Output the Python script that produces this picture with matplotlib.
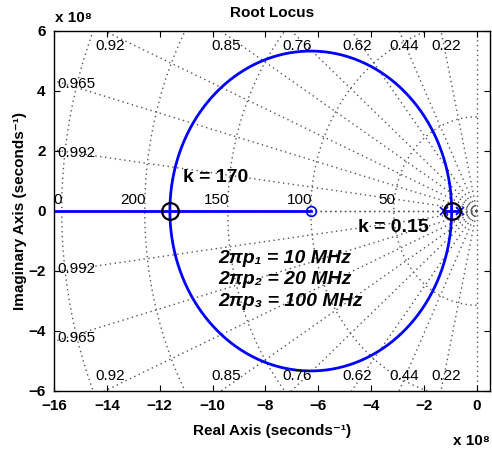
import numpy as np
import matplotlib.pyplot as plt

plt.rcParams['font.family'] = ['Liberation Sans', 'DejaVu Sans']
plt.rcParams['font.size'] = 11

# --------------------------------------------------------------
# data (frequencies in MHz, plotted in units of 1e8 rad/s)
# --------------------------------------------------------------
pole_mhz = [10, 20]
zero_mhz = 100
damping = [0.22, 0.44, 0.62, 0.76, 0.85, 0.92, 0.965, 0.992]
wn_mhz = [50, 100, 150, 200, 250]
gain_text = ["k = 170", "k = 0.15"]
freq_text = ["2πp\u2081 = 10 MHz", "2πp\u2082 = 20 MHz", "2πp\u2083 = 100 MHz"]
x_ticks = [-16, -14, -12, -10, -8, -6, -4, -2, 0]
y_ticks = [-6, -4, -2, 0, 2, 4, 6]

SCALE = 1e8
XMIN, XMAX, YMIN, YMAX = -16, 0.5, -6, 6
GRID = dict(color="#555555", lw=1.0, dashes=(1, 2.5), zorder=1)


def to_plane(f_mhz):
    return -2 * np.pi * np.asarray(f_mhz, dtype=float) * 1e6 / SCALE


fig = plt.figure(figsize=(4.92, 4.51), dpi=100)
ax = fig.add_axes([54 / 492, 60 / 451, 436 / 492, 360 / 451])

# ---- sgrid: damping rays ----
for z in damping + [1.0]:
    s = np.sqrt(1 - z * z)
    for sgn in (1, -1):
        ax.plot([0, -40 * z], [0, sgn * 40 * s], **GRID)
ax.plot([0, 0], [YMIN, YMAX], **GRID)

for z in damping:
    s = np.sqrt(1 - z * z)
    xt = -YMAX * z / s
    if xt > XMIN:
        for yy in (5.5, -5.5):
            ax.text(xt + 0.2, yy, f"{z:g}", ha="center", va="center", zorder=4)
    else:
        yl = -XMIN * s / z - 0.1
        for yy in (yl, -yl):
            ax.text(XMIN + 0.12, yy, f"{z:g}", ha="left", va="center", zorder=4)

# ---- sgrid: natural frequency arcs ----
th = np.linspace(np.pi / 2, 3 * np.pi / 2, 400)
for wn in wn_mhz:
    r = -to_plane(wn)
    ax.plot(r * np.cos(th), r * np.sin(th), **GRID)
    ax.text(-r + 0.05, 0.12, str(wn), ha="right", va="bottom", zorder=4, clip_on=True)

# ---- root locus ----
p = to_plane(pole_mhz)
zr = to_plane(zero_mhz)
rad = np.sqrt((zr - p[0]) * (zr - p[1]))
ang = np.linspace(0, 2 * np.pi, 600)
ax.plot(zr + rad * np.cos(ang), rad * np.sin(ang), color="blue", lw=2, zorder=2)
ax.plot([XMIN - 5, zr], [0, 0], color="blue", lw=2, zorder=2)
ax.plot([p[1], p[0]], [0, 0], color="blue", lw=2, zorder=2)
ax.plot(p, [0, 0], "x", color="blue", ms=6, mew=1.2, zorder=3)
ax.plot([zr], [0], "o", color="blue", mfc="none", ms=7, mew=1.2, zorder=3)

# breakaway / break-in points
brk = [zr - rad, zr + rad]
ax.plot(brk, [0, 0], "o", color="black", mfc="none", ms=12, mew=1.6, zorder=3)

ax.text(brk[0] + 0.5, 1.1, gain_text[0], fontsize=14, fontweight="bold",
        ha="left", va="center", zorder=5)
ax.text(brk[1] - 3.55, -0.55, gain_text[1], fontsize=14, fontweight="bold",
        ha="left", va="center", zorder=5)
for i, t in enumerate(freq_text):
    ax.text(-9.77, -1.57 - 0.73 * i, t, fontsize=14, fontweight="bold",
            fontstyle="italic", ha="left", va="center", zorder=5)

# ---- axes ----
ax.set_xlim(XMIN, XMAX)
ax.set_ylim(YMIN, YMAX)
ax.set_xticks(x_ticks)
ax.set_yticks(y_ticks)
ax.tick_params(direction="in", top=True, right=True, length=4, pad=6,
               labelsize=11)
for lab in ax.get_xticklabels() + ax.get_yticklabels():
    lab.set_fontweight("bold")
for sp in ax.spines.values():
    sp.set_linewidth(1.0)

ax.set_title("Root Locus", fontsize=11, fontweight="bold", pad=10)
ax.set_xlabel("Real Axis (seconds\u207b\u00b9)", fontsize=11, fontweight="bold", labelpad=8)
ax.set_ylabel("Imaginary Axis (seconds\u207b\u00b9)", fontsize=11, fontweight="bold", labelpad=1)

fig.text(55 / 492, 1 - 18 / 451, "x 10\u2078", fontsize=11, fontweight="bold",
         ha="left", va="center")
fig.text(490 / 492, 1 - 441 / 451, "x 10\u2078", fontsize=11, fontweight="bold",
         ha="right", va="center")

fig.savefig("out.png", dpi=100)
